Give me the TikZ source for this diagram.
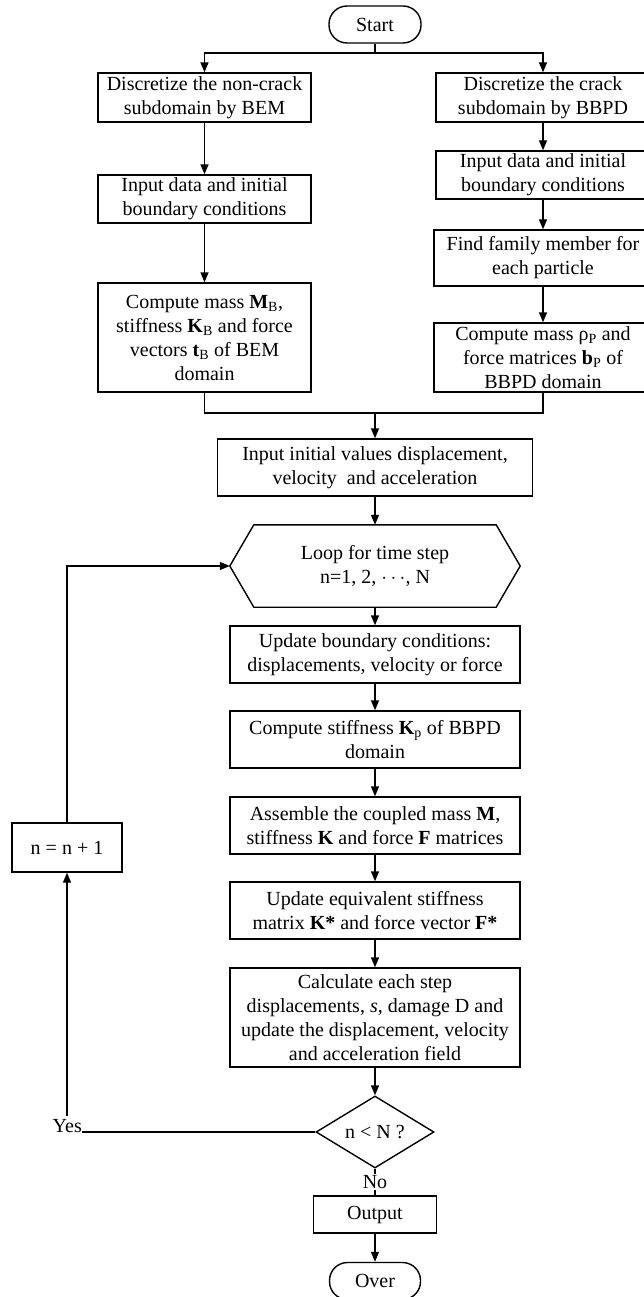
\documentclass[tikz,border=0pt]{standalone}
\usepackage{fontspec}
\setmainfont{Liberation Serif}
\usetikzlibrary{arrows.meta,shapes.geometric}
\begin{document}
\begin{tikzpicture}[x=1pt,y=-1pt,
  font=\fontsize{20}{24}\selectfont,
  box/.style={draw, line width=1.4pt, align=center, inner sep=2pt},
  term/.style={draw, line width=1.4pt, rounded corners=18pt, minimum width=92pt, minimum height=37pt, inner sep=2pt},
  arr/.style={line width=1.4pt, -{Triangle[length=10pt,width=8pt]}},
  conn/.style={line width=1.4pt}]
\useasboundingbox (0,0) rectangle (643,1297);

% start and split
\node[term] (start) at (375,24.5) {Start};
\coordinate (split) at (375,53);

% left column
\node[box, minimum width=213pt, minimum height=49pt] (L1) at (204.5,97.5) {Discretize the non-crack\\subdomain by BEM};
\node[box, minimum width=213pt, minimum height=48pt] (L2) at (204.5,199) {Input data and initial\\boundary conditions};
\node[box, minimum width=213pt, minimum height=109pt] (L3) at (204.5,337.5) {Compute mass \textbf{M}\textsubscript{B},\\stiffness \textbf{K}\textsubscript{B} and force\\vectors \textbf{t}\textsubscript{B} of BEM\\domain};

% right column
\node[box, minimum width=214pt, minimum height=49pt] (R1) at (543,97.5) {Discretize the crack\\subdomain by BBPD};
\node[box, minimum width=214pt, minimum height=48pt] (R2) at (543,175) {Input data and initial\\boundary conditions};
\node[box, minimum width=218pt, minimum height=56pt] (R3) at (543,258) {Find family member for\\each particle};
\node[box, minimum width=218pt, minimum height=69pt] (R4) at (543,357.5) {Compute mass ρ\textsubscript{P} and\\force matrices \textbf{b}\textsubscript{P} of\\BBPD domain};

\coordinate (merge) at (375,413);

% main column
\node[box, minimum width=315pt, minimum height=57pt] (iiv) at (375,467.5) {Input initial values displacement,\\velocity\ \ and acceleration};
\node[minimum width=290pt, minimum height=82pt, align=center, inner sep=2pt] (loop) at (375,566) {Loop for time step\\n=1, 2, $\cdots$, N};
\draw[conn] ([xshift=24pt]loop.north west) -- ([xshift=-24pt]loop.north east) -- (loop.east)
  -- ([xshift=-24pt]loop.south east) -- ([xshift=24pt]loop.south west) -- (loop.west) -- cycle;
\node[box, minimum width=290pt, minimum height=57pt] (ubc) at (375,654.5) {Update boundary conditions:\\displacements, velocity or force};
\node[box, minimum width=290pt, minimum height=57pt] (csk) at (375,739.5) {Compute stiffness \textbf{K}\textsubscript{p} of BBPD\\domain};
\node[box, minimum width=290pt, minimum height=57pt] (asm) at (375,825.5) {Assemble the coupled mass \textbf{M},\\stiffness \textbf{K} and force \textbf{F} matrices};
\node[box, minimum width=290pt, minimum height=57pt] (ueq) at (375,910.5) {Update equivalent stiffness\\matrix \textbf{K*} and force vector \textbf{F*}};
\node[box, minimum width=290pt, minimum height=99pt] (calc) at (375,1017.5) {Calculate each step\\displacements, \textit{s}, damage D and\\update the displacement, velocity\\and acceleration field};
\node[diamond, draw, line width=1.4pt, minimum width=118pt, minimum height=72pt, aspect=1.64, inner sep=0pt] (dia) at (375,1132) {n < N ?};
\node[box, minimum width=123pt, minimum height=37pt] (out) at (375,1214.5) {Output};
\node[term, minimum width=91pt] (over) at (375,1281) {Over};

% loop-back
\node[box, minimum width=110pt, minimum height=49pt] (nn) at (67,847.5) {n = n + 1};
\node[anchor=base east, inner sep=0pt] (yes) at (82,1132) {Yes};
\path (yes.north) ++(0,-3) coordinate (ytop);

% connectors
\draw[conn] (start.south) -- (split);
\draw[arr] (split) -| (L1.north);
\draw[arr] (split) -| (R1.north);
\draw[arr] (L1) -- (L2);
\draw[arr] (L2) -- (L3);
\draw[arr] (R1) -- (R2);
\draw[arr] (R2) -- (R3);
\draw[arr] (R3) -- (R4);
\draw[conn] (L3.south) |- (merge);
\draw[conn] (R4.south) |- (merge);
\draw[arr] (merge) -- (iiv.north);
\draw[arr] (iiv) -- (loop.north);
\draw[arr] (loop.south) -- (ubc);
\draw[arr] (ubc) -- (csk);
\draw[arr] (csk) -- (asm);
\draw[arr] (asm) -- (ueq);
\draw[arr] (ueq) -- (calc);
\draw[arr] (calc) -- (dia);
\draw[conn] (dia) -- node[fill=white, inner sep=1pt] {No} (out);
\draw[arr] (out) -- (over);
\draw[conn] (dia.west) -- (dia.west -| yes.base east);
\draw[arr] (nn.south |- ytop) -- (nn.south);
\draw[arr] (nn.north) |- (loop.west);
\end{tikzpicture}
\end{document}
